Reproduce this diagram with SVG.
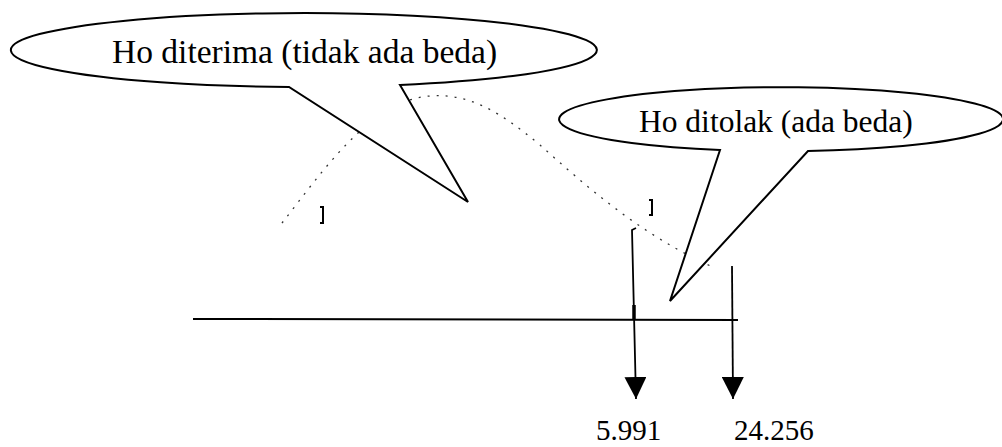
<svg xmlns="http://www.w3.org/2000/svg" width="1002" height="447" viewBox="0 0 1002 447">
  <style>
    .callout { fill: #ffffff; stroke: #000000; stroke-width: 2; stroke-linejoin: miter; }
    .lbl { font-family: "Liberation Serif", "Times New Roman", serif; fill: #000000; }
    .curve { fill: none; stroke: #333333; stroke-width: 1.3; stroke-dasharray: 2 7; }
    .axis { stroke: #000000; stroke-width: 2; fill: none; }
    .arr { stroke: #000000; stroke-width: 1.8; fill: none; marker-end: url(#head); }
    .tick { fill: none; stroke: #000000; stroke-width: 2; }
  </style>
  <defs>
    <marker id="head" markerUnits="userSpaceOnUse" markerWidth="22" markerHeight="22" viewBox="0 0 20 20" refX="20" refY="10" orient="auto">
      <path d="M0,0 L20,10 L0,20 Z" fill="#000000"/>
    </marker>
  </defs>

  <g id="distribution-curve">
    <path class="curve" d="M 282 223 C 320 175, 370 100, 430 96 C 470 93, 500 112, 540 145 C 585 185, 640 235, 715 268"/>
    <path class="tick" d="M 320 207 H 323 V 223 H 320"/>
    <path class="tick" d="M 649 200 H 652 V 215 H 649"/>
  </g>

  <g id="axis">
    <path class="axis" d="M 193 319 L 738 320"/>
  </g>

  <g id="connectors">
    <path class="arr" d="M 636 228 L 632 230 L 636 399"/>
    <path d="M 634 305 L 634 320" stroke="#000" stroke-width="3.5"/>
    <path class="arr" d="M 732 266 L 733 399"/>
  </g>

  <g id="callout-accept">
    <path class="callout" d="M 400 85 A 293 37 0 1 0 289 87 L 468 202 Z"/>
    <text class="lbl" x="112" y="63" font-size="33.5">Ho diterima (tidak ada beda)</text>
  </g>

  <g id="callout-reject">
    <path class="callout" d="M 808 151 A 222 32 0 1 0 720 150 L 670 301 Z"/>
    <text class="lbl" x="639" y="132" font-size="31.5">Ho ditolak (ada beda)</text>
  </g>

  <g id="label-5991">
    <text class="lbl" x="596" y="440" font-size="29">5.991</text>
  </g>
  <g id="label-24256">
    <text class="lbl" x="734" y="440" font-size="29">24.256</text>
  </g>
</svg>
